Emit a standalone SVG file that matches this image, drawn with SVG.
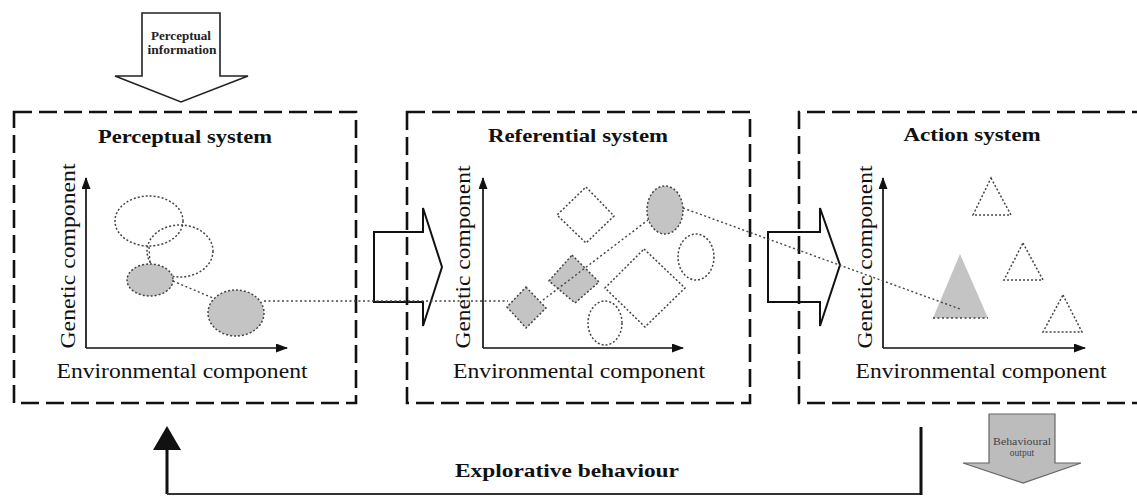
<svg xmlns="http://www.w3.org/2000/svg" width="1137" height="496" viewBox="0 0 1137 496">
<defs>
<style>
.box{fill:none;stroke:#111;stroke-width:2.6;stroke-dasharray:18 7}
.axis{fill:none;stroke:#111;stroke-width:1.7}
.title{font-family:"Liberation Serif",serif;font-weight:bold;font-size:19px;fill:#111;text-anchor:middle}
.lbl{font-family:"Liberation Serif",serif;font-size:20px;fill:#111;text-anchor:middle}
.dotg{fill:#c4c4c4;stroke:#444;stroke-width:1.5;stroke-dasharray:2 2}
.dotw{fill:none;stroke:#444;stroke-width:1.5;stroke-dasharray:2 2}
.dotl{fill:none;stroke:#444;stroke-width:1.4;stroke-dasharray:2 2.5}
.hollow{fill:none;stroke:#111;stroke-width:2}
.small{font-family:"Liberation Serif",serif;font-weight:bold;font-size:12px;fill:#222;text-anchor:middle}
</style>
<marker id="ah" viewBox="0 0 12 9" refX="11" refY="4.5" markerWidth="12" markerHeight="9" markerUnits="userSpaceOnUse" orient="auto">
<path d="M0,0 L12,4.5 L0,9 z" fill="#111"/>
</marker>
</defs>
<rect width="1137" height="496" fill="#fff"/>

<g id="perceptual-information">
<polygon points="142,13 220,13 220,76 248,76 181,102 115,76 142,76" fill="#fff" stroke="#222" stroke-width="1.6"/>
<text class="small" x="181" y="40" textLength="60" lengthAdjust="spacingAndGlyphs">Perceptual</text>
<text class="small" x="182" y="54" textLength="69" lengthAdjust="spacingAndGlyphs">information</text>
</g>

<g id="perceptual-system">
<rect class="box" x="14" y="112" width="342" height="291"/>
<text class="title" x="185" y="143" textLength="174" lengthAdjust="spacingAndGlyphs">Perceptual system</text>
<path class="axis" d="M86,348 V178" marker-end="url(#ah)"/>
<path class="axis" d="M86,348 H287" marker-end="url(#ah)"/>
<text class="lbl" transform="translate(75,256) rotate(-90)" x="0" y="0" textLength="185" lengthAdjust="spacingAndGlyphs">Genetic component</text>
<text class="lbl" x="182" y="378" textLength="251" lengthAdjust="spacingAndGlyphs">Environmental component</text>
<ellipse class="dotw" cx="149" cy="221" rx="34" ry="25"/>
<ellipse class="dotw" cx="180" cy="251" rx="33" ry="26"/>
<ellipse class="dotg" cx="150" cy="280" rx="23" ry="16"/>
<ellipse class="dotg" cx="236" cy="313" rx="28" ry="23"/>
</g>

<g id="referential-system">
<rect class="box" x="407" y="112" width="343" height="291"/>
<text class="title" x="578" y="142" textLength="180" lengthAdjust="spacingAndGlyphs">Referential system</text>
<path class="axis" d="M483,348 V178" marker-end="url(#ah)"/>
<path class="axis" d="M483,348 H683" marker-end="url(#ah)"/>
<text class="lbl" transform="translate(470,257) rotate(-90)" x="0" y="0" textLength="183" lengthAdjust="spacingAndGlyphs">Genetic component</text>
<text class="lbl" x="579" y="378" textLength="252" lengthAdjust="spacingAndGlyphs">Environmental component</text>
<polygon class="dotw" points="586,187 614,216 586,243 557,215"/>
<polygon class="dotw" points="644,249 685,288 645,327 605,288"/>
<ellipse class="dotw" cx="696" cy="257" rx="18" ry="23"/>
<ellipse class="dotw" cx="605" cy="323" rx="17" ry="22"/>
<ellipse class="dotg" cx="665" cy="210" rx="18" ry="24"/>
<polygon class="dotg" points="572,255 599,282 575,303 549,281"/>
<polygon class="dotg" points="526,287 546,308 526,328 507,307"/>
</g>

<g id="action-system">
<path class="box" d="M1150,112 H799 V403 H1150"/>
<text class="title" x="972" y="141" textLength="137" lengthAdjust="spacingAndGlyphs">Action system</text>
<path class="axis" d="M883,348 V178" marker-end="url(#ah)"/>
<path class="axis" d="M883,348 H1085" marker-end="url(#ah)"/>
<text class="lbl" transform="translate(872,257) rotate(-90)" x="0" y="0" textLength="183" lengthAdjust="spacingAndGlyphs">Genetic component</text>
<text class="lbl" x="981" y="378" textLength="251" lengthAdjust="spacingAndGlyphs">Environmental component</text>
<polygon points="960,254 988,318 933,318" fill="#c4c4c4"/>
<path class="dotl" d="M933,318 H988"/>
<polygon class="dotw" points="991,178 1011,215 973,215"/>
<polygon class="dotw" points="1023,243 1043,280 1004,280"/>
<polygon class="dotw" points="1063,295 1082,332 1043,332"/>
</g>

<g id="behavioural-output">
<polygon points="989,414 1055,414 1055,463 1081,463 1023,483 963,463 989,463" fill="#bcbcbc" stroke="#666" stroke-width="1.2"/>
<text x="1022" y="445" font-family="Liberation Serif, serif" font-size="9.5" fill="#444" text-anchor="middle" textLength="58" lengthAdjust="spacingAndGlyphs">Behavioural</text>
<text x="1022" y="456" font-family="Liberation Serif, serif" font-size="9.5" fill="#444" text-anchor="middle">output</text>
</g>

<g id="connectors">
<polygon class="hollow" points="374,232 423,232 423,208 442,267 423,326 423,302 374,302"/>
<polygon class="hollow" points="768,232 820,232 820,208 840,265 820,326 820,302 768,302"/>
<path class="dotl" d="M149,247 L150,264"/>
<path class="dotl" d="M173,281 L213,298"/>
<path class="dotl" d="M264,301 H508"/>
<path class="dotl" d="M543,300 L648,220"/>
<path class="dotl" d="M683,208 L960,309"/>
<path d="M167,494 V447" stroke="#111" stroke-width="3" fill="none"/>
<polygon points="167,426 181,450 153,450" fill="#111"/>
<path d="M167,494 H921" stroke="#333" stroke-width="2" fill="none"/>
<path d="M921,427 V495" stroke="#111" stroke-width="3" fill="none"/>
<text class="title" x="567" y="477" textLength="224" lengthAdjust="spacingAndGlyphs">Explorative behaviour</text>
</g>
</svg>
